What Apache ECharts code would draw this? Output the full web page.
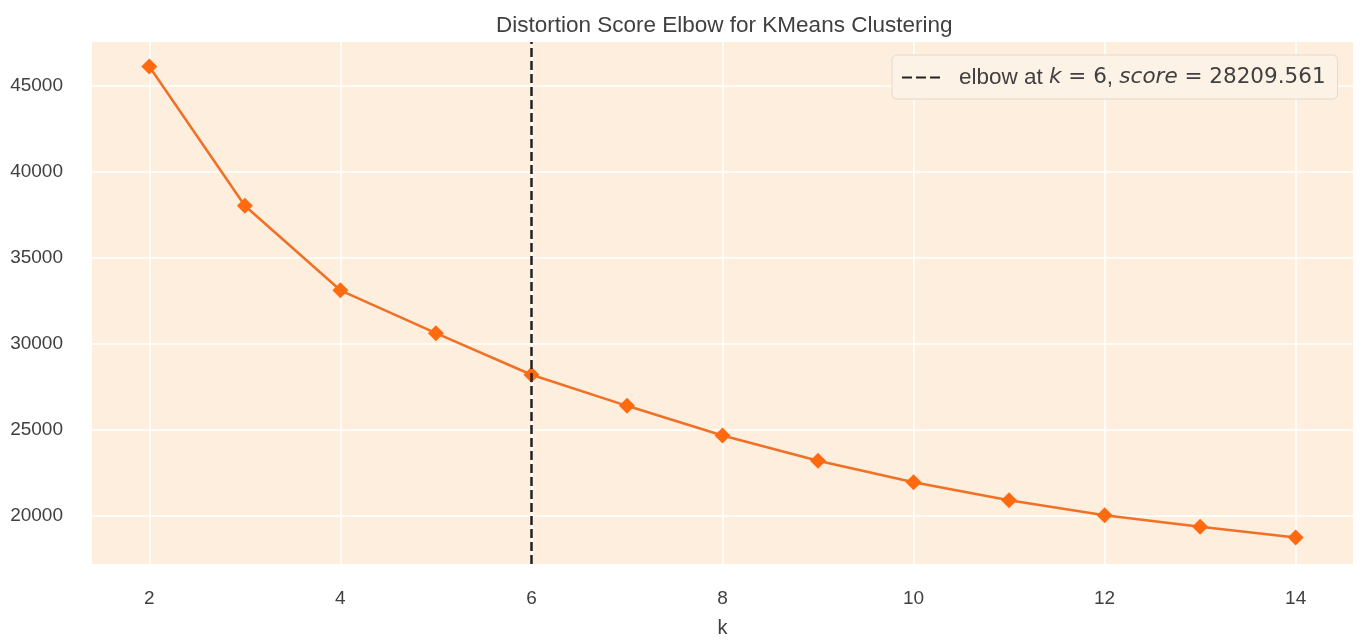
<!DOCTYPE html>
<html>
<head>
<meta charset="utf-8">
<script src="https://cdn.jsdelivr.net/npm/echarts@6/dist/echarts.min.js"></script>
<style>
  html, body { margin: 0; padding: 0; background: #fff; }
  #chart { width: 1361px; height: 643px; }
</style>
</head>
<body>
<div id="chart"></div>
<script>
// k values and distortion scores
const kValues = [2, 3, 4, 5, 6, 7, 8, 9, 10, 11, 12, 13, 14];
const distortion = [46107, 38022, 33113, 30625, 28209.561, 26405, 24684, 23211, 21967, 20917, 20057, 19386, 18755];
const elbowK = 6;
const elbowScore = 28209.561;
const xTicks = [2, 4, 6, 8, 10, 12, 14];
const yTicks = [20000, 25000, 30000, 35000, 40000, 45000];

const textColor = '#404040';
const font = 'Liberation Sans';
const mathFont = 'DejaVu Sans';

const chart = echarts.init(document.getElementById('chart'));

const option = {
  backgroundColor: '#ffffff',
  animation: false,
  textStyle: { fontFamily: font },
  title: {
    text: 'Distortion Score Elbow for KMeans Clustering',
    left: 491,
    top: 9,
    textStyle: { fontFamily: font, fontSize: 22.5, fontWeight: 'normal', color: textColor },
  },
  grid: {
    left: 92,
    right: 8,
    top: 42,
    bottom: 78,
    show: true,
    backgroundColor: '#fdeedd',
    borderWidth: 0,
  },
  legend: {
    left: 892,
    top: 55,
    padding: [11, 12, 10, 10],
    itemWidth: 38,
    itemHeight: 14,
    backgroundColor: '#fdf2e6',
    borderColor: '#e4d9cc',
    borderWidth: 1,
    borderRadius: 5,
    data: [{
      name: 'elbow',
      icon: 'path://M0,6 L10,6 L10,8 L0,8 Z M14,6 L24,6 L24,8 L14,8 Z M28,6 L38,6 L38,8 L28,8 Z',
      itemStyle: { color: '#222222' },
    }],
    formatter: function () {
      return '{s|}{a|elbow at }{i|k}{m| = ' + elbowK + '}{a|, }{i|score}{m| = ' + elbowScore.toFixed(3) + '}';
    },
    textStyle: {
      color: textColor,
      fontSize: 22,
      rich: {
        s: { width: 14 },
        a: { fontFamily: font, fontSize: 22.5, color: textColor },
        m: { fontFamily: mathFont, fontSize: 21.5, color: textColor },
        i: { fontFamily: mathFont, fontStyle: 'italic', fontSize: 21.5, color: textColor },
      },
    },
  },
  xAxis: {
    type: 'value',
    min: 1.4,
    max: 14.6,
    name: 'k',
    nameLocation: 'middle',
    nameGap: 54,
    nameTextStyle: { fontFamily: font, fontSize: 20, color: textColor },
    axisLine: { show: false },
    axisTick: { show: false, customValues: xTicks },
    axisLabel: {
      customValues: xTicks,
      margin: 25,
      fontSize: 19,
      color: textColor,
      fontFamily: font,
    },
    splitLine: { show: true, lineStyle: { color: '#ffffff', width: 1.5 } },
  },
  yAxis: {
    type: 'value',
    min: 17220,
    max: 47530,
    axisLine: { show: false },
    axisTick: { show: false, customValues: yTicks },
    axisLabel: {
      customValues: yTicks,
      margin: 29,
      fontSize: 19,
      color: textColor,
      fontFamily: font,
      formatter: v => String(v),
    },
    splitLine: { show: true, lineStyle: { color: '#ffffff', width: 1.5 } },
  },
  series: [
    {
      name: 'distortion',
      type: 'line',
      data: kValues.map((k, i) => [k, distortion[i]]),
      symbol: 'diamond',
      symbolSize: 16,
      lineStyle: { color: '#f07026', width: 2.5 },
      itemStyle: { color: '#ff6a10' },
      z: 3,
    },
    {
      name: 'elbow',
      type: 'line',
      data: [],
      symbol: 'none',
      lineStyle: { color: '#222222', type: [9, 4], width: 2.5 },
      itemStyle: { color: '#222222' },
      markLine: {
        silent: true,
        symbol: 'none',
        label: { show: false },
        lineStyle: { color: '#222222', type: [9, 4], width: 2.5 },
        data: [{ xAxis: elbowK }],
      },
      z: 4,
    },
  ],
};

chart.setOption(option);
</script>
</body>
</html>
